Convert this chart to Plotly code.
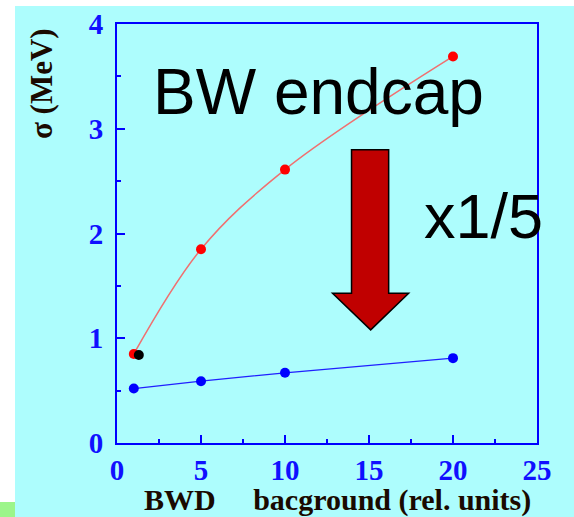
import plotly.graph_objects as go

# ---- data ----
bg_x = [1, 5, 10, 20]
sigma_red = [0.85, 1.85, 2.61, 3.69]
sigma_blue = [0.52, 0.59, 0.67, 0.81]
black_x = [1.3]
black_y = [0.84]
x_ticks = [0, 5, 10, 15, 20, 25]
y_ticks = [0, 1, 2, 3, 4]

W, H = 574, 517
L, R, T, B = 117, 37, 24, 74
pw, ph = W - L - R, H - T - B

def px(x):
    return (x - L) / pw

def py(y):
    return (H - B - y) / ph

fig = go.Figure()
fig.add_trace(go.Scatter(x=bg_x, y=sigma_red, mode="lines+markers", line=dict(color="#f07070", width=1.5, shape="spline"),
                         marker=dict(color="#ff0000", size=10), showlegend=False))
fig.add_trace(go.Scatter(x=bg_x, y=sigma_blue, mode="lines+markers", line=dict(color="#2020ff", width=1.2),
                         marker=dict(color="#0000ff", size=10), showlegend=False))
fig.add_trace(go.Scatter(x=black_x, y=black_y, mode="markers",
                         marker=dict(color="#000000", size=10), showlegend=False))

# arrow (data coords)
ax = [13.96, 16.17, 12.83, 17.36, 15.1]
ay = [2.80, 1.43, 1.08]
arrow_path = (f"M {ax[0]} {ay[0]} L {ax[1]} {ay[0]} L {ax[1]} {ay[1]} L {ax[3]} {ay[1]} "
              f"L {ax[4]} {ay[2]} L {ax[2]} {ay[1]} L {ax[0]} {ay[1]} Z")

shapes = [
    dict(type="rect", xref="paper", yref="paper", x0=px(15), x1=px(W + 5), y0=py(6), y1=py(H + 5),
         fillcolor="#adfdfd", line=dict(width=0), layer="below"),
    dict(type="rect", xref="paper", yref="paper", x0=px(-5), x1=px(15), y0=py(502), y1=py(H + 5),
         fillcolor="#9cf58a", line=dict(width=0), layer="below"),
    dict(type="path", xref="x", yref="y", path=arrow_path, fillcolor="#c00000",
         line=dict(color="#000000", width=1.5)),
]

serif = "Liberation Serif"
annotations = [
    dict(text="BW endcap", xref="paper", yref="paper", x=px(151), y=py(92), xanchor="left", yanchor="middle",
         showarrow=False, font=dict(family="Liberation Sans", size=64, color="#000000")),
    dict(text="x1/5", xref="paper", yref="paper", x=px(422), y=py(216), xanchor="left", yanchor="middle",
         showarrow=False, font=dict(family="Liberation Sans", size=63, color="#000000")),
    dict(text="<b>σ (MeV)</b>", xref="paper", yref="paper", x=px(41), y=py(84), xanchor="center", yanchor="middle",
         textangle=-90, showarrow=False, font=dict(family=serif, size=31, color="#1a0a00")),
    dict(text="<b>BWD     bacground (rel. units)</b>", xref="paper", yref="paper", x=px(337), y=py(500),
         xanchor="center", yanchor="middle", showarrow=False, font=dict(family=serif, size=30, color="#1a0a00")),
]

axis_common = dict(showline=True, linecolor="#0000ff", linewidth=2, mirror=True, showgrid=False, zeroline=False,
                   automargin=False,
                   ticks="inside", ticklen=8, tickwidth=2, tickcolor="#0000ff",
                   tickfont=dict(family=serif, size=29, color="#1010ff", weight="bold"))

fig.update_layout(
    width=W, height=H,
    margin=dict(l=L, r=R, t=T, b=B, autoexpand=False),
    paper_bgcolor="#ffffff", plot_bgcolor="rgba(0,0,0,0)",
    xaxis=dict(range=[0, 25], tickvals=x_ticks, ticklabelstandoff=0,
               minor=dict(dtick=2.5, tick0=0, ticks="inside", ticklen=4, tickwidth=2, tickcolor="#0000ff"),
               **axis_common),
    yaxis=dict(range=[0, 4], tickvals=y_ticks, ticklabelstandoff=6,
               minor=dict(dtick=0.5, tick0=0, ticks="inside", ticklen=4, tickwidth=2, tickcolor="#0000ff"),
               **axis_common),
    shapes=shapes, annotations=annotations,
)

fig.write_html("out.html", config=dict(displayModeBar=False),
               post_script="document.body.style.margin='0';document.body.style.padding='0';")
